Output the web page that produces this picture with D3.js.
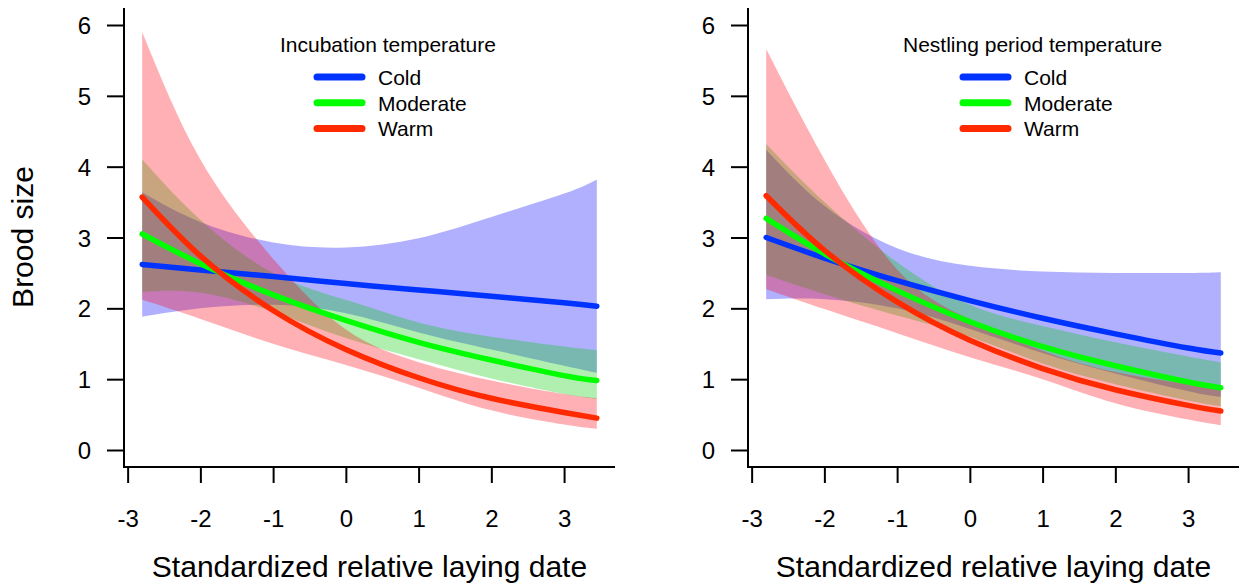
<!DOCTYPE html>
<html>
<head>
<meta charset="utf-8">
<script src="https://cdn.jsdelivr.net/npm/d3@7"></script>
<style>
  body { margin: 0; background: #fff; }
  text { font-family: "Liberation Sans", Arial, sans-serif; fill: #000; }
</style>
</head>
<body>
<svg id="chart" width="1244" height="585"></svg>
<script>
// standardized relative laying date at which the fitted values were read
const dates = [-2.8, -2, -1, 0, 1, 2, 3, 3.45];
const groups = ["Cold", "Moderate", "Warm"];
const panelTitles = ["Incubation temperature", "Nestling period temperature"];
const xTicks = [-3, -2, -1, 0, 1, 2, 3];
const yTicks = [0, 1, 2, 3, 4, 5, 6];

// incubation temperature panel
const incColdFit  = [2.62, 2.54, 2.45, 2.35, 2.26, 2.17, 2.08, 2.03];
const incColdLow  = [1.88, 2.00, 2.05, 1.93, 1.66, 1.42, 1.19, 1.09];
const incColdHigh = [3.64, 3.22, 2.93, 2.86, 2.99, 3.29, 3.62, 3.82];
const incModFit   = [3.05, 2.63, 2.19, 1.83, 1.52, 1.27, 1.05, 0.98];
const incModLow   = [2.23, 2.22, 1.95, 1.58, 1.28, 1.01, 0.79, 0.72];
const incModHigh  = [4.10, 3.25, 2.50, 2.12, 1.80, 1.60, 1.46, 1.41];
const incWarmFit  = [3.57, 2.74, 1.97, 1.42, 1.02, 0.73, 0.53, 0.45];
const incWarmLow  = [2.12, 1.85, 1.50, 1.20, 0.88, 0.56, 0.36, 0.30];
const incWarmHigh = [5.90, 4.10, 2.70, 1.70, 1.24, 0.98, 0.79, 0.73];

// nestling period temperature panel
const nesColdFit  = [3.00, 2.71, 2.39, 2.11, 1.86, 1.64, 1.44, 1.37];
const nesColdLow  = [2.13, 2.13, 2.00, 1.71, 1.37, 1.08, 0.83, 0.75];
const nesColdHigh = [4.24, 3.45, 2.85, 2.60, 2.52, 2.50, 2.50, 2.51];
const nesModFit   = [3.27, 2.77, 2.25, 1.81, 1.46, 1.19, 0.96, 0.88];
const nesModLow   = [2.47, 2.20, 1.90, 1.60, 1.22, 0.93, 0.70, 0.62];
const nesModHigh  = [4.32, 3.50, 2.65, 2.05, 1.75, 1.52, 1.32, 1.24];
const nesWarmFit  = [3.59, 2.82, 2.09, 1.55, 1.15, 0.85, 0.63, 0.55];
const nesWarmLow  = [2.27, 1.99, 1.65, 1.31, 1.00, 0.66, 0.43, 0.35];
const nesWarmHigh = [5.66, 4.10, 2.55, 1.85, 1.40, 1.10, 0.93, 0.87];

const lineColors = ["#0033ff", "#00ff00", "#ff2a00"];
const bandColors = ["#0000ff", "#00cc00", "#ff0010"];

const panels = [
  { title: panelTitles[0], dx: 0, titleX: 280, keyX: 317,
    fit: [incColdFit, incModFit, incWarmFit],
    low: [incColdLow, incModLow, incWarmLow],
    high: [incColdHigh, incModHigh, incWarmHigh] },
  { title: panelTitles[1], dx: 624, titleX: 903, keyX: 963,
    fit: [nesColdFit, nesModFit, nesWarmFit],
    low: [nesColdLow, nesModLow, nesWarmLow],
    high: [nesColdHigh, nesModHigh, nesWarmHigh] }
];

const svg = d3.select("#chart");
const plot = { left: 124, right: 615, top: 8, bottom: 467 };

const y = d3.scaleLinear().domain([-0.24, 6.24]).range([plot.bottom, plot.top]);

panels.forEach((p, pi) => {
  const g = svg.append("g").attr("transform", `translate(${p.dx},0)`);
  const x = d3.scaleLinear().domain([-3.05, 3.70]).range([plot.left, plot.right]);

  const area = d3.area()
    .x(d => x(d.date))
    .y0(d => y(d.low))
    .y1(d => y(d.high))
    .curve(d3.curveNatural);
  const line = d3.line()
    .x(d => x(d.date))
    .y(d => y(d.fit))
    .curve(d3.curveNatural);

  const series = groups.map((name, i) => dates.map((date, j) => ({
    date, fit: p.fit[i][j], low: p.low[i][j], high: p.high[i][j]
  })));

  // confidence bands
  series.forEach((s, i) => {
    g.append("path").datum(s)
      .attr("d", area)
      .attr("fill", bandColors[i])
      .attr("fill-opacity", 0.31);
  });

  // fitted lines
  series.forEach((s, i) => {
    g.append("path").datum(s)
      .attr("d", line)
      .attr("fill", "none")
      .attr("stroke", lineColors[i])
      .attr("stroke-width", 5.5)
      .attr("stroke-linecap", "round");
  });

  // axes
  const yAxis = g.append("g")
    .attr("transform", `translate(${plot.left},0)`)
    .call(d3.axisLeft(y).tickValues(yTicks).tickSize(17).tickPadding(16).tickFormat(d => String(d)));
  yAxis.select(".domain").remove();
  yAxis.selectAll(".tick line").attr("stroke-width", 2);
  yAxis.selectAll(".tick text").attr("font-size", 24).attr("dy", "0.36em");

  const xAxis = g.append("g")
    .attr("transform", `translate(0,${plot.bottom})`)
    .call(d3.axisBottom(x).tickValues(xTicks).tickSize(16).tickPadding(0).tickFormat(d => String(d)));
  xAxis.select(".domain").remove();
  xAxis.selectAll(".tick line").attr("stroke-width", 2);
  xAxis.selectAll(".tick text").attr("font-size", 24).attr("y", 51).attr("dy", "0.36em");

  g.append("path")
    .attr("d", `M${plot.left},${plot.top}V${plot.bottom}H${plot.right}`)
    .attr("fill", "none")
    .attr("stroke", "#000")
    .attr("stroke-width", 2);

  g.append("text")
    .attr("x", (plot.left + plot.right) / 2)
    .attr("y", 577)
    .attr("text-anchor", "middle")
    .attr("font-size", 30)
    .text("Standardized relative laying date");

  if (pi === 0) {
    g.append("text")
      .attr("transform", "translate(33,237) rotate(-90)")
      .attr("text-anchor", "middle")
      .attr("font-size", 30)
      .text("Brood size");
  }

  // legend
  g.append("text")
    .attr("x", p.titleX - p.dx)
    .attr("y", 52)
    .attr("font-size", 21)
    .text(p.title);
  groups.forEach((name, i) => {
    const ly = 77 + i * 25.7;
    g.append("line")
      .attr("x1", p.keyX - p.dx).attr("x2", p.keyX - p.dx + 45)
      .attr("y1", ly).attr("y2", ly)
      .attr("stroke", lineColors[i])
      .attr("stroke-width", 7)
      .attr("stroke-linecap", "round");
    g.append("text")
      .attr("x", p.keyX - p.dx + 61)
      .attr("y", ly + 8)
      .attr("font-size", 21)
      .text(name);
  });
});
</script>
</body>
</html>
